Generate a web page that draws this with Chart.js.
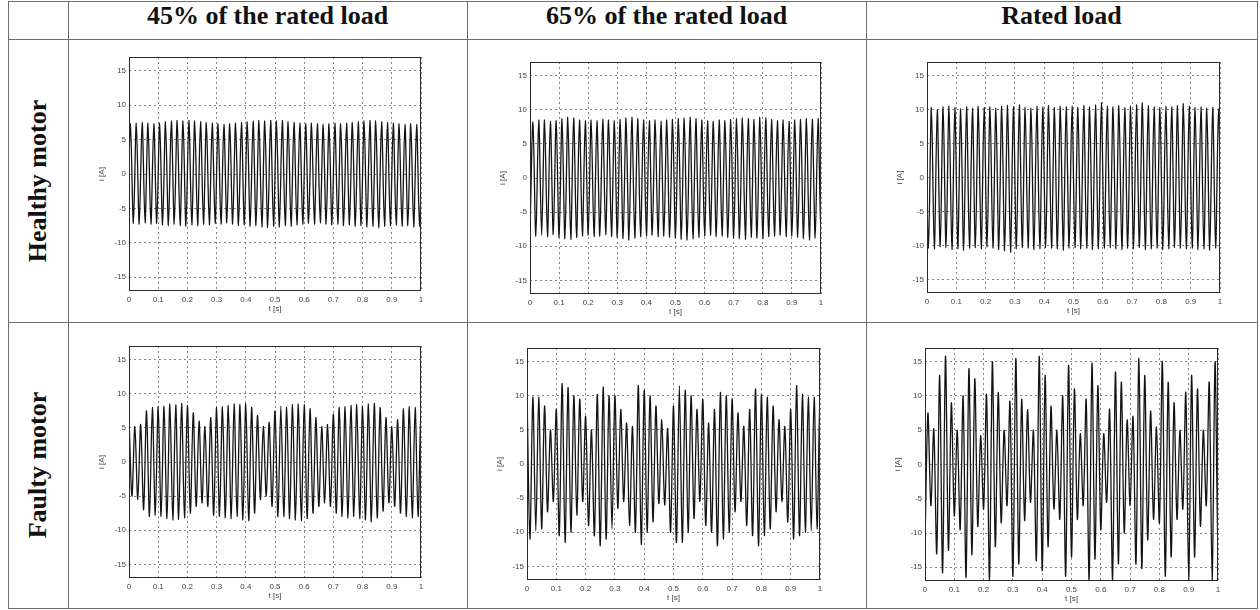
<!DOCTYPE html>
<html>
<head>
<meta charset="utf-8">
<title>Stator current</title>
<script src="https://cdn.jsdelivr.net/npm/chart.js@4.4.0/dist/chart.umd.min.js"></script>
<style>
  html, body { margin: 0; padding: 0; background: #fff; }
  body { position: relative; width: 1260px; height: 610px; overflow: hidden; }
  .rule { position: absolute; background: #6e6e6e; }
  .head {
    position: absolute; top: 1px; height: 38px; line-height: 40px;
    text-align: center; color: #111;
    font: bold 26px "Liberation Serif", "Times New Roman", serif;
  }
  .side {
    position: absolute; left: -112px; width: 300px; height: 30px; line-height: 30px;
    text-align: center; color: #111; transform: rotate(-90deg);
    font: bold 26px "Liberation Serif", "Times New Roman", serif;
  }
  .plot { position: absolute; }
</style>
</head>
<body>
<div id="table"></div>

<script>
// ============================================= DATA
const colTitles = ['45% of the rated load', '65% of the rated load', 'Rated load'];
const rowTitles = ['Healthy motor', 'Faulty motor'];
const timeTicks = [0, 0.1, 0.2, 0.3, 0.4, 0.5, 0.6, 0.7, 0.8, 0.9, 1];
const currentTicks = [-15, -10, -5, 0, 5, 10, 15];
const xLabel = 't [s]';
const yLabel = 'i [A]';

// half a period of the 50 Hz supply, time between two extremes
const halfPeriod = 0.01;
// time of the first extreme and its sign, per plot (row by row)
const peakStart = [-0.005, 0, -0.005, 0, 0, 0];
const peakFirst = ['lower', 'lower', 'upper', 'upper', 'upper', 'lower'];

// extremes of each half cycle
const healthy45Upper = [7.3, 7.4, 7.5, 7.4, 7.3, 7.4, 7.6, 7.7, 7.8, 7.7, 7.8, 7.7, 7.6, 7.5, 7.4, 7.3, 7.2, 7.3, 7.4, 7.5, 7.6, 7.7, 7.8, 7.7, 7.8, 7.7, 7.8, 7.6, 7.5, 7.4, 7.3, 7.4, 7.3, 7.2, 7.3, 7.4, 7.3, 7.4, 7.5, 7.6, 7.7, 7.8, 7.7, 7.6, 7.5, 7.4, 7.3, 7.2, 7.3, 7.2, 7.0];
const healthy45Lower = [-7.0, -7.2, -7.3, -7.1, -7.3, -7.2, -7.4, -7.5, -7.3, -7.5, -7.6, -7.4, -7.5, -7.3, -7.4, -7.2, -7.3, -7.1, -7.3, -7.5, -7.4, -7.6, -7.5, -7.7, -7.8, -7.6, -7.7, -7.5, -7.6, -7.4, -7.3, -7.2, -7.3, -7.1, -7.3, -7.4, -7.3, -7.5, -7.4, -7.6, -7.5, -7.7, -7.6, -7.8, -7.6, -7.5, -7.4, -7.6, -7.5, -7.7, -7.6];

const healthy65Upper = [8.2, 8.5, 8.5, 8.3, 8.4, 8.7, 8.9, 8.8, 8.5, 8.4, 8.5, 8.4, 8.6, 8.5, 8.4, 8.6, 8.8, 8.9, 8.7, 8.5, 8.4, 8.5, 8.3, 8.5, 8.6, 8.7, 8.8, 8.9, 8.7, 8.5, 8.4, 8.3, 8.5, 8.4, 8.6, 8.7, 8.8, 8.7, 8.6, 8.9, 8.8, 8.6, 8.4, 8.5, 8.3, 8.5, 8.6, 8.7, 8.6, 8.7, 8.6];
const healthy65Lower = [-8.0, -8.5, -8.4, -8.6, -8.3, -8.7, -8.9, -9.0, -8.7, -8.5, -8.4, -8.6, -8.5, -8.3, -8.6, -8.7, -8.9, -9.1, -8.8, -8.6, -8.5, -8.4, -8.6, -8.5, -8.7, -8.8, -9.0, -9.1, -8.9, -8.7, -8.5, -8.4, -8.6, -8.5, -8.7, -8.8, -8.9, -9.0, -8.7, -8.8, -8.9, -8.6, -8.5, -8.4, -8.6, -8.5, -8.7, -8.9, -9.1, -8.8, -8.6];

const healthyRatedUpper = [10.2, 10.3, 10.0, 10.4, 10.5, 10.3, 10.1, 10.4, 10.2, 10.5, 10.3, 10.4, 10.2, 10.5, 10.6, 10.4, 10.7, 10.3, 10.2, 10.5, 10.4, 10.6, 10.3, 10.5, 10.4, 10.5, 10.3, 10.6, 10.4, 10.7, 11.0, 10.5, 10.4, 10.6, 10.3, 10.5, 10.7, 11.0, 10.6, 10.4, 10.3, 10.5, 10.4, 10.6, 10.9, 10.5, 10.3, 10.4, 10.2, 10.3, 10.1];
const healthyRatedLower = [-10.4, -10.5, -10.2, -10.3, -10.6, -10.5, -10.7, -10.4, -10.3, -10.5, -10.2, -10.4, -10.6, -10.8, -11.0, -10.5, -10.3, -10.4, -10.6, -10.5, -10.3, -10.4, -10.5, -10.7, -10.4, -10.3, -10.5, -10.4, -10.6, -10.5, -10.4, -10.3, -10.5, -10.6, -10.4, -10.5, -10.3, -10.6, -10.5, -10.4, -10.6, -10.5, -10.3, -10.4, -10.5, -10.4, -10.6, -10.5, -10.7, -10.4, -10.3];

const faulty45Upper = [6.5, 5.2, 5.5, 7.5, 8.0, 8.1, 8.2, 8.5, 8.4, 8.6, 8.3, 7.2, 6.0, 5.2, 6.5, 8.0, 8.1, 8.3, 8.5, 8.4, 8.6, 8.0, 6.8, 5.2, 5.8, 7.5, 8.2, 8.0, 8.4, 8.5, 8.4, 7.8, 6.5, 5.2, 5.5, 7.0, 8.0, 8.1, 8.3, 8.4, 8.2, 8.5, 8.6, 8.0, 6.5, 5.2, 6.2, 7.8, 8.1, 8.0, 7.5];
const faulty45Lower = [-5.0, -5.5, -7.0, -8.0, -7.8, -8.0, -8.3, -8.5, -8.4, -8.2, -7.5, -6.5, -6.0, -6.5, -7.8, -8.0, -8.2, -8.3, -8.0, -8.5, -8.6, -7.5, -5.5, -5.0, -6.5, -8.0, -8.0, -8.3, -8.5, -8.6, -8.3, -7.5, -6.5, -6.0, -6.5, -7.5, -8.0, -8.2, -8.0, -8.3, -8.5, -8.8, -8.2, -7.2, -6.0, -6.5, -7.5, -8.0, -8.2, -8.0, -7.5];

const faulty65Upper = [10.5, 9.8, 9.8, 8.5, 5.0, 8.0, 11.8, 11.2, 10.0, 9.5, 7.0, 5.0, 10.2, 11.3, 10.0, 10.0, 8.0, 6.0, 5.5, 11.5, 10.8, 10.0, 8.5, 6.5, 5.2, 8.5, 11.5, 10.8, 10.0, 8.0, 9.5, 6.0, 8.0, 10.5, 10.0, 9.5, 7.5, 5.5, 8.0, 11.0, 10.2, 9.8, 8.5, 6.5, 5.5, 8.0, 11.5, 10.2, 9.8, 9.8, 9.5];
const faulty65Lower = [-11.0, -9.8, -9.5, -7.0, -5.5, -10.5, -11.5, -10.0, -7.5, -5.5, -9.0, -10.5, -12.0, -11.0, -9.5, -6.5, -5.5, -9.0, -10.0, -11.8, -10.0, -8.5, -5.8, -6.0, -10.0, -11.5, -11.5, -10.0, -8.0, -5.5, -9.0, -10.0, -12.0, -11.0, -10.0, -7.0, -5.5, -9.0, -10.5, -12.0, -10.5, -9.5, -7.0, -5.5, -8.5, -11.0, -10.5, -10.0, -9.8, -9.5, -8.0];

const faultyRatedUpper = [7.5, 5.2, 13.0, 15.8, 9.0, 5.0, 10.0, 14.0, 12.5, 4.2, 10.2, 15.0, 10.5, 5.0, 9.2, 15.5, 9.5, 8.0, 5.0, 15.8, 13.0, 8.5, 5.0, 10.0, 14.5, 11.0, 4.5, 9.5, 14.8, 11.5, 4.5, 8.0, 13.5, 12.0, 6.5, 7.0, 15.5, 13.0, 7.8, 5.5, 15.0, 12.0, 9.0, 5.0, 10.5, 13.0, 11.0, 5.0, 12.0, 15.0, 10.0];
const faultyRatedLower = [-11.5, -6.0, -13.0, -15.8, -12.5, -7.5, -9.5, -16.5, -13.2, -9.0, -6.5, -16.8, -12.0, -8.5, -6.0, -16.3, -14.5, -8.2, -5.5, -14.0, -15.5, -12.0, -6.5, -8.0, -16.3, -13.5, -8.0, -6.0, -16.8, -13.8, -9.5, -5.5, -16.8, -14.5, -10.0, -6.0, -14.5, -15.2, -11.0, -8.0, -8.5, -16.3, -13.5, -8.0, -6.5, -17.0, -13.5, -9.0, -6.0, -17.0, -12.0];

const upperPeaks = [healthy45Upper, healthy65Upper, healthyRatedUpper, faulty45Upper, faulty65Upper, faultyRatedUpper];
const lowerPeaks = [healthy45Lower, healthy65Lower, healthyRatedLower, faulty45Lower, faulty65Lower, faultyRatedLower];

// ============================================= LAYOUT
// plot frames in page pixels: left, top, right, bottom
const frames = [
  [129, 57, 421, 291], [530, 62, 821, 294], [927, 62, 1220, 293],
  [129, 346, 421, 578], [527, 348, 820, 580], [925, 348, 1218, 581]
];
const axisLeft = 34, axisBottom = 26, padTop = 8, padRight = 8;

document.addEventListener('DOMContentLoaded', () => {
  const _table = document.getElementById('table');

  /**
   * @name initTable
   */
  const initTable = () => {
    const hLines = [1, 39, 322, 608];
    const vLines = [8, 68, 467, 866, 1257];

    hLines.forEach((y) => {
      const el = document.createElement('div');
      el.className = 'rule';
      el.style.cssText = `left:8px;top:${y}px;width:1250px;height:1px;`;
      _table.appendChild(el);
    });
    vLines.forEach((x) => {
      const el = document.createElement('div');
      el.className = 'rule';
      el.style.cssText = `left:${x}px;top:1px;width:1px;height:608px;`;
      _table.appendChild(el);
    });

    colTitles.forEach((text, i) => {
      const el = document.createElement('div');
      el.className = 'head';
      el.style.left = vLines[i + 1] + 'px';
      el.style.width = (vLines[i + 2] - vLines[i + 1]) + 'px';
      el.textContent = text;
      _table.appendChild(el);
    });

    rowTitles.forEach((text, i) => {
      const el = document.createElement('div');
      el.className = 'side';
      el.style.top = ((hLines[i + 1] + hLines[i + 2]) / 2 - 15) + 'px';
      el.textContent = text;
      _table.appendChild(el);
    });
  };

  /**
   * @description alternate the half-cycle extremes along the time axis
   */
  const buildTrace = (idx) => {
    const upper = upperPeaks[idx],
      lower = lowerPeaks[idx],
      upFirst = peakFirst[idx] === 'upper',
      points = [];

    for (let i = 0; i < upper.length; i++) {
      points.push({ x: peakStart[idx] + 2 * i * halfPeriod, y: upFirst ? upper[i] : lower[i] });
      points.push({ x: peakStart[idx] + (2 * i + 1) * halfPeriod, y: upFirst ? lower[i] : upper[i] });
    }
    return points;
  };

  const frameBox = {
    id: 'frameBox',
    afterDraw(chart) {
      const { ctx, chartArea: a } = chart;
      ctx.save();
      ctx.strokeStyle = '#2a2a2a';
      ctx.lineWidth = 1;
      ctx.strokeRect(Math.round(a.left) + 0.5, Math.round(a.top) + 0.5,
        Math.round(a.width) - 1, Math.round(a.height) - 1);
      ctx.restore();
    }
  };

  const tickFont = { family: '"Liberation Sans", Arial, sans-serif', size: 8 };

  /**
   * @name initPlots
   */
  const initPlots = () => {
    frames.forEach((f, idx) => {
      const box = document.createElement('div'),
        canvas = document.createElement('canvas'),
        w = f[2] - f[0] + axisLeft + padRight,
        h = f[3] - f[1] + padTop + axisBottom;

      box.className = 'plot';
      box.style.cssText = `left:${f[0] - axisLeft}px;top:${f[1] - padTop}px;width:${w}px;height:${h}px;`;
      canvas.width = w;
      canvas.height = h;
      box.appendChild(canvas);
      document.body.appendChild(box);

      new Chart(canvas, {
        type: 'line',
        data: {
          datasets: [{
            data: buildTrace(idx),
            borderColor: '#141414',
            borderWidth: 1.3,
            pointRadius: 0,
            tension: 0.3
          }]
        },
        options: {
          responsive: false,
          animation: false,
          events: [],
          layout: { padding: { top: padTop, right: padRight, left: 0, bottom: 0 } },
          plugins: { legend: { display: false }, tooltip: { enabled: false } },
          scales: {
            x: {
              type: 'linear', min: 0, max: 1,
              afterBuildTicks: (s) => { s.ticks = timeTicks.map((v) => ({ value: v })); },
              afterFit: (s) => { s.height = axisBottom; },
              grid: { color: '#666', lineWidth: 0.8, drawTicks: false },
              border: { display: false, dash: [2, 3] },
              ticks: { padding: 4, color: '#444', font: tickFont, maxRotation: 0, callback: (v) => String(v) },
              title: { display: true, text: xLabel, color: '#444', font: tickFont, padding: { top: 0, bottom: 3 } }
            },
            y: {
              type: 'linear', min: -17, max: 17,
              afterBuildTicks: (s) => { s.ticks = currentTicks.map((v) => ({ value: v })); },
              afterFit: (s) => { s.width = axisLeft; },
              grid: { color: '#666', lineWidth: 0.8, drawTicks: false },
              border: { display: false, dash: [2, 3] },
              ticks: { padding: 3, color: '#444', font: tickFont, callback: (v) => String(v) },
              title: { display: true, text: yLabel, color: '#444', font: tickFont, padding: { top: 2, bottom: 0 } }
            }
          }
        },
        plugins: [frameBox]
      });
    });
  };

  initTable();
  initPlots();
});
</script>
</body>
</html>
